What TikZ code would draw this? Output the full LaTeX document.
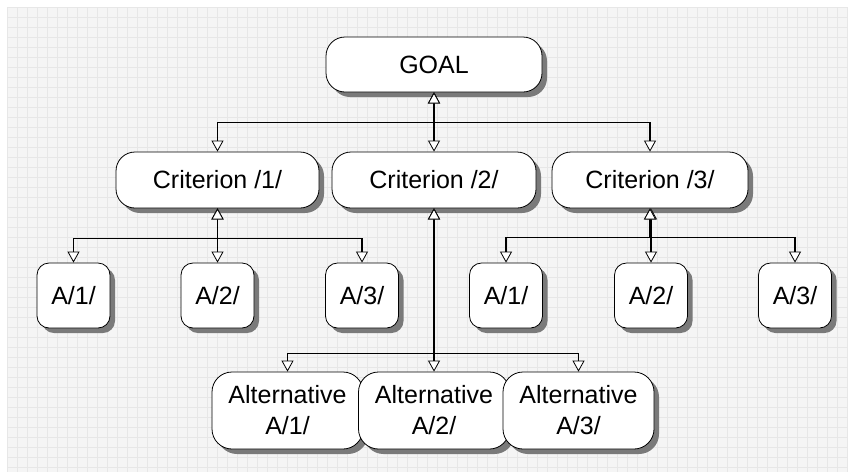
\documentclass[tikz,border=0pt]{standalone}
\usepackage{fontspec}
\setmainfont{Liberation Sans}
\usetikzlibrary{arrows.meta,shadows}
\definecolor{gridbg}{HTML}{F5F5F5}
\definecolor{gridln}{HTML}{E7E7E7}
\definecolor{shadowgray}{HTML}{7A7A7A}
\tikzset{
  box/.style={draw=black, line width=0.8pt, fill=white, inner sep=0pt,
    font=\fontsize{25}{31}\selectfont, align=center,
    drop shadow={shadow xshift=5pt, shadow yshift=-5pt, fill=shadowgray, opacity=1}},
  critbox/.style={box, rounded corners=19pt, minimum height=56pt},
  abox/.style={box, rounded corners=12pt, minimum width=73pt, minimum height=65pt},
  altbox/.style={box, rounded corners=20pt, minimum width=151pt, minimum height=77pt},
  conn/.style={line width=1.8pt,
    {Triangle[fill=white,length=11pt,width=12pt,line width=0.8pt]}-{Triangle[fill=white,length=11pt,width=12pt,line width=0.8pt]}}
}
\begin{document}
\begin{tikzpicture}[x=1pt,y=-1pt]
\useasboundingbox (0,0) rectangle (848,472);
\fill[white] (0,0) rectangle (848,472);
\fill[gridbg] (7,7) rectangle (848,472);
\begin{scope}[shift={(7,7)}]
\draw[gridln, line width=0.5pt, step=10pt] (0,0) grid (841,465);
\end{scope}

\node[critbox, minimum width=216pt, minimum height=55pt] (goal) at (434,64.5) {GOAL};
\node[critbox, minimum width=203pt] (c1) at (217.5,180) {Criterion /1/};
\node[critbox, minimum width=204pt] (c2) at (434,180) {Criterion /2/};
\node[critbox, minimum width=196pt] (c3) at (650,180) {Criterion /3/};

\node[abox] (a11) at (73.5,295.5) {A/1/};
\node[abox] (a12) at (217.5,295.5) {A/2/};
\node[abox] (a13) at (362,295.5) {A/3/};
\node[abox] (a31) at (506,295.5) {A/1/};
\node[abox] (a32) at (651,295.5) {A/2/};
\node[abox] (a33) at (795,295.5) {A/3/};

\node[altbox] (b1) at (287.5,410.5) {Alternative\\A/1/};
\node[altbox] (b2) at (434,410.5) {Alternative\\A/2/};
\node[altbox] (b3) at (578.5,410.5) {Alternative\\A/3/};

\draw[conn] (goal.south) -- ++(0,30) -| (c1.north);
\draw[conn] (goal.south) -- (c2.north);
\draw[conn] (goal.south) -- ++(0,30) -| (c3.north);

\draw[conn] (c1.south) -- ++(0,30) -| (a11.north);
\draw[conn] (c1.south) -- (a12.north);
\draw[conn] (c1.south) -- ++(0,30) -| (a13.north);

\draw[conn] (c3.south) -- ++(0,29) -| (a31.north);
\draw[conn] (c3.south -| a32.north) -- (a32.north);
\draw[conn] (c3.south) -- ++(0,29) -| (a33.north);

\draw[conn] (c2.south) -- ++(0,145) -| (b1.north);
\draw[conn] (c2.south) -- (b2.north);
\draw[conn] (c2.south) -- ++(0,145) -| (b3.north);
\end{tikzpicture}
\end{document}
